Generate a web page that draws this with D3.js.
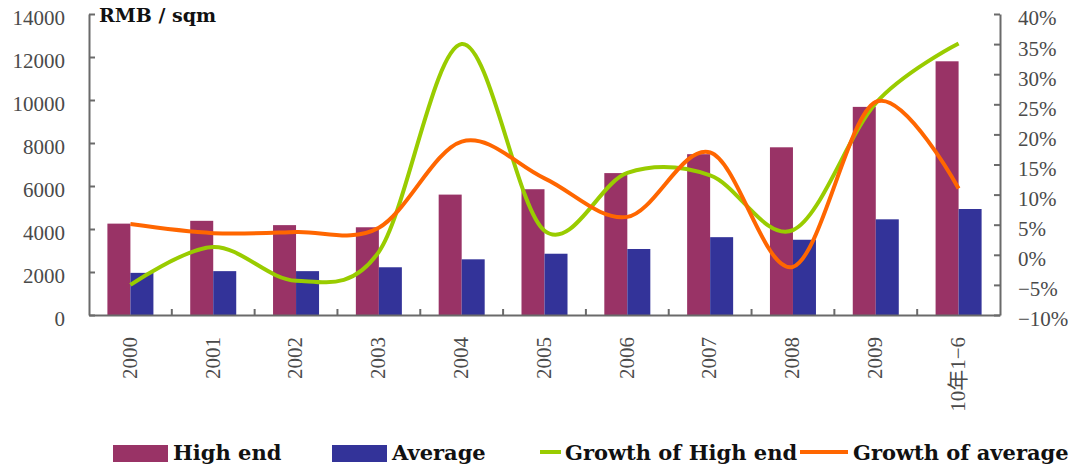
<!DOCTYPE html>
<html>
<head>
<meta charset="utf-8">
<script src="https://cdn.jsdelivr.net/npm/d3@7"></script>
<style>
  html, body { margin: 0; padding: 0; background: #fff; }
  svg { display: block; }
</style>
</head>
<body>
<svg id="chart" width="1073" height="465"></svg>
<script>
// Categories (years; last one is Jan–Jun 2010)
const categories = ["2000", "2001", "2002", "2003", "2004", "2005", "2006", "2007", "2008", "2009", "10年1−6"];

// Prices, RMB per square metre
const highEnd = [4250, 4380, 4180, 4080, 5600, 5850, 6600, 7480, 7800, 9680, 11800];
const average = [1960, 2040, 2040, 2220, 2590, 2850, 3070, 3620, 3500, 4450, 4930];

// Year-on-year growth, percent
const growthHigh = [-5.0, 1.3, -4.3, 0.5, 35.0, 4.0, 13.6, 13.2, 4.1, 25.2, 35.1];
const growthAvg = [5.1, 3.6, 3.8, 4.5, 18.8, 12.7, 6.3, 17.0, -2.0, 25.4, 11.0];

// Axis ticks
const leftTicks = [0, 2000, 4000, 6000, 8000, 10000, 12000, 14000];
const rightTicks = [-10, -5, 0, 5, 10, 15, 20, 25, 30, 35, 40];

// Legend entries
const legendNames = ["High end", "Average", "Growth of High end", "Growth of average"];

const colors = { high: "#993366", avg: "#333399", gHigh: "#99cc00", gAvg: "#ff6600" };

const svg = d3.select("#chart");
const plotL = 89, plotR = 1000, plotT = 14, plotB = 315;
const axisColor = "#6a6a6a";
const labelColor = "#4a4a4a";
const serif = "'Liberation Serif', 'Noto Sans CJK SC', serif";
const boldSerif = "'DejaVu Serif', serif";

const x = d3.scaleBand().domain(categories).range([plotL, plotR]).padding(0);
const x1 = d3.scaleBand().domain(["high", "avg"]).range([0, x.bandwidth()]).paddingOuter(0.8);
const yL = d3.scaleLinear().domain([0, 14000]).range([plotB, plotT]);
const yR = d3.scaleLinear().domain([-10, 40]).range([plotB, plotT]);

// Bars
const rows = categories.map((c, i) => ({ c, high: highEnd[i], avg: average[i] }));
const groups = svg.append("g").selectAll("g").data(rows).join("g")
  .attr("transform", d => `translate(${x(d.c)},0)`);
groups.selectAll("rect")
  .data(d => [{ k: "high", v: d.high }, { k: "avg", v: d.avg }])
  .join("rect")
  .attr("x", d => x1(d.k))
  .attr("width", x1.bandwidth())
  .attr("y", d => yL(d.v))
  .attr("height", d => yL(0) - yL(d.v))
  .attr("fill", d => colors[d.k]);

// Left axis
const axL = svg.append("g").attr("transform", `translate(${plotL},0)`)
  .call(d3.axisLeft(yL).tickValues(leftTicks).tickFormat(d3.format("d"))
    .tickSizeInner(-6).tickSizeOuter(0).tickPadding(24));
// Right axis
const axR = svg.append("g").attr("transform", `translate(${plotR},0)`)
  .call(d3.axisRight(yR).tickValues(rightTicks).tickFormat(d => d3.format("d")(d) + "%")
    .tickSizeInner(-6).tickSizeOuter(0).tickPadding(18));
// Bottom axis: ticks at category boundaries, labels at centres
const axB = svg.append("g").attr("transform", `translate(0,${plotB})`)
  .call(d3.axisBottom(x).tickSize(0).tickPadding(0));
axB.selectAll(".tick text").remove();
axB.selectAll(".tick line").remove();
axB.selectAll(".boundary").data(categories.slice(1)).join("line")
  .attr("class", "boundary")
  .attr("x1", d => x(d)).attr("x2", d => x(d))
  .attr("y1", 0).attr("y2", -6);

[axL, axR, axB].forEach(g => {
  g.selectAll("path.domain, line").attr("stroke", axisColor).attr("stroke-width", 2);
  g.selectAll("text").attr("font-family", serif).attr("font-size", 21)
    .attr("fill", labelColor).attr("dy", "0.52em");
});

// Rotated category labels
svg.append("g").selectAll("text").data(categories).join("text")
  .attr("transform", d => `translate(${x(d) + x.bandwidth() / 2 - 1},337) rotate(-90)`)
  .attr("text-anchor", "end")
  .attr("dy", "0.35em")
  .attr("font-family", serif).attr("font-size", 21).attr("fill", labelColor)
  .text(d => d);

// Growth lines (smoothed)
const line = d3.line()
  .x((d, i) => x(categories[i]) + x.bandwidth() / 2)
  .y(d => yR(d))
  .curve(d3.curveCardinal.tension(0));
svg.append("path").datum(growthHigh).attr("d", line)
  .attr("fill", "none").attr("stroke", colors.gHigh).attr("stroke-width", 4)
  .attr("stroke-linejoin", "round");
svg.append("path").datum(growthAvg).attr("d", line)
  .attr("fill", "none").attr("stroke", colors.gAvg).attr("stroke-width", 4)
  .attr("stroke-linejoin", "round");

// Unit title
svg.append("text").attr("x", 99).attr("y", 22)
  .attr("font-family", boldSerif).attr("font-weight", "bold").attr("font-size", 19)
  .attr("fill", "#111").text("RMB / sqm");

// Legend
const lg = svg.append("g").attr("font-family", boldSerif).attr("font-weight", "bold")
  .attr("font-size", 21).attr("fill", "#111");
const legendItems = [
  { name: legendNames[0], type: "rect", color: colors.high, x0: 113, w: 55, tx: 173 },
  { name: legendNames[1], type: "rect", color: colors.avg, x0: 332, w: 55, tx: 392 },
  { name: legendNames[2], type: "line", color: colors.gHigh, x0: 540, w: 21, tx: 565 },
  { name: legendNames[3], type: "line", color: colors.gAvg, x0: 800, w: 48, tx: 853 }
];
legendItems.forEach(it => {
  if (it.type === "rect") {
    lg.append("rect").attr("x", it.x0).attr("y", 445).attr("width", it.w).attr("height", 17)
      .attr("fill", it.color);
  } else {
    lg.append("line").attr("x1", it.x0).attr("x2", it.x0 + it.w).attr("y1", 452).attr("y2", 452)
      .attr("stroke", it.color).attr("stroke-width", 4);
  }
  lg.append("text").attr("x", it.tx).attr("y", 460).text(it.name);
});
</script>
</body>
</html>
